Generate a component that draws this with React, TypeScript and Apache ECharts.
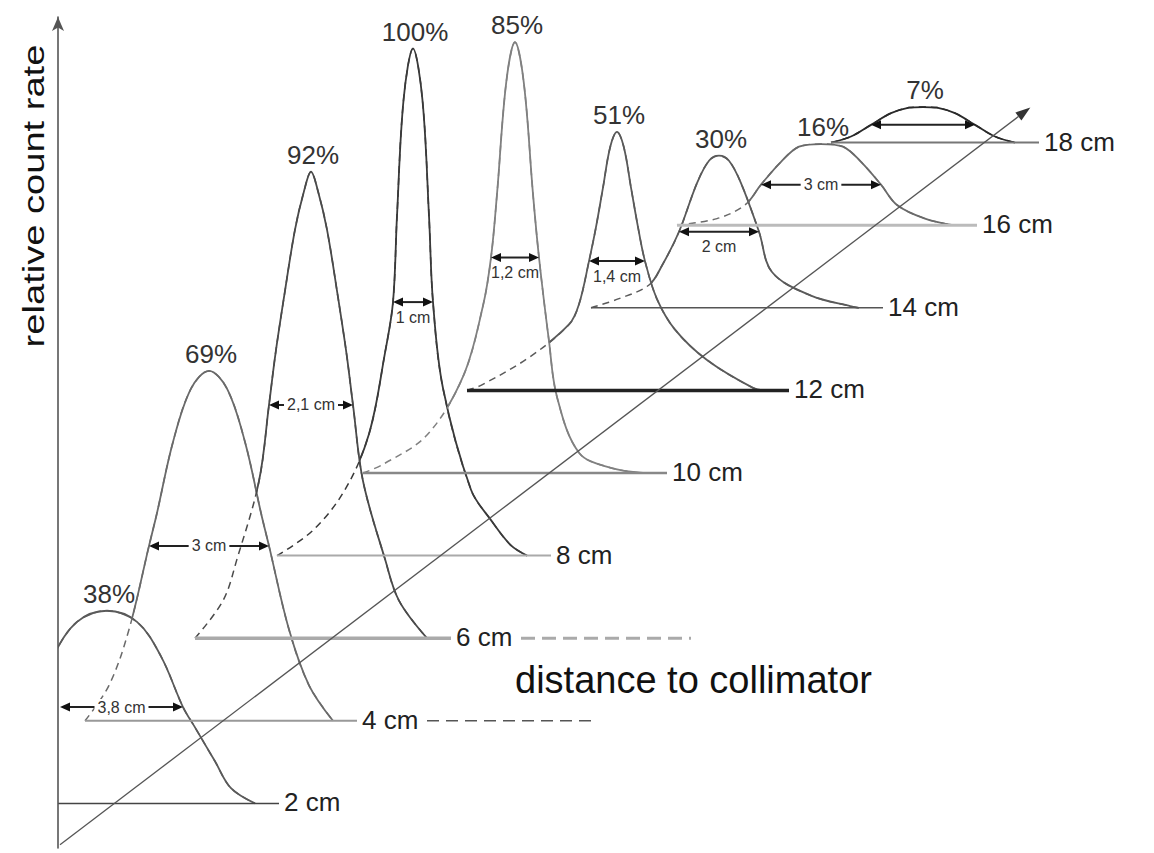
import React, { useEffect, useRef } from "react";
import * as echarts from "echarts";

// ---------------- data ----------------
const distancesCm = [2, 4, 6, 8, 10, 12, 14, 16, 18];
const distanceLabels = ["2 cm", "4 cm", "6 cm", "8 cm", "10 cm", "12 cm", "14 cm", "16 cm", "18 cm"];
const peakPercent = [38, 69, 92, 100, 85, 51, 30, 16, 7];
const percentLabels = ["38%", "69%", "92%", "100%", "85%", "51%", "30%", "16%", "7%"];
const fwhmCm = [3.8, 3, 2.1, 1, 1.2, 1.4, 2, 3, 2.6];
const fwhmLabels = ["3,8 cm", "3 cm", "2,1 cm", "1 cm", "1,2 cm", "1,4 cm", "2 cm", "3 cm", ""];

// lateral position (cm) -> relative count rate (%) profiles, one per distance
const profile2cm = [[-3.7, 0], [-3.1, 3], [-2.7, 8.3], [-2.2, 15], [-1.9, 19], [-1.35, 29], [-0.75, 35.8], [0, 38], [0.75, 35.8], [1.35, 29], [1.9, 19], [2.2, 15], [2.7, 8.3], [3.1, 3], [3.7, 0]];
const profile4cm = [[-3.1, 0], [-2.5, 7], [-2.0, 18], [-1.5, 34.5], [-1.3, 41], [-0.9, 55], [-0.45, 65.5], [0, 69], [0.45, 65.5], [0.9, 55], [1.3, 41], [1.5, 34.5], [2.0, 18], [2.5, 7], [3.1, 0]];
const profile6cm = [[-2.9, 0], [-2.2, 7.4], [-1.85, 15.6], [-1.3, 31], [-1.05, 46], [-0.89, 56], [-0.66, 68], [-0.4, 80.6], [-0.18, 88], [0, 92], [0.18, 88], [0.4, 80.6], [0.66, 68], [0.89, 56], [1.05, 46], [1.3, 31], [1.85, 15.6], [2.2, 7.4], [2.9, 0]];
const profile8cm = [[-3.4, 0], [-2.5, 5], [-1.7, 13], [-1.1, 24], [-0.7, 40], [-0.5, 50], [-0.4, 67], [-0.235, 90], [0, 100], [0.235, 90], [0.4, 67], [0.5, 50], [0.75, 33], [1.45, 13], [1.95, 7], [2.45, 2], [2.85, 0]];
const profile10cm = [[-3.8, 0], [-3.3, 1.7], [-2.2, 7.5], [-1.3, 19], [-0.8, 33], [-0.6, 42.5], [-0.45, 55], [-0.22, 77], [0, 85], [0.22, 77], [0.45, 55], [0.6, 42.5], [0.85, 26], [1.05, 15], [1.6, 4], [2.4, 1], [3.2, 0]];
const profile12cm = [[-3.75, 0], [-3.4, 1], [-2.2, 6.5], [-1.2, 13], [-0.95, 17], [-0.7, 25.5], [-0.53, 32], [-0.35, 40], [-0.17, 48], [0, 51], [0.17, 48], [0.35, 40], [0.53, 32], [0.7, 25.5], [1.0, 18], [1.45, 12], [2.25, 6], [3.4, 0.5], [3.7, 0]];
const profile14cm = [[-3.2, 0], [-2.5, 1.8], [-1.75, 4.5], [-1.42, 8.4], [-1.0, 15], [-0.55, 24.6], [-0.25, 29], [0, 30], [0.25, 29], [0.55, 24.6], [1.0, 15], [1.33, 7], [2.3, 2.4], [3.3, 0.3], [3.5, 0]];
const profile16cm = [[-3.6, 0], [-2.6, 1.3], [-1.9, 4], [-1.5, 8], [-1.0, 12.5], [-0.55, 15.5], [0, 16], [0.55, 15.5], [1.0, 12.5], [1.5, 8], [1.9, 4], [2.6, 1.3], [3.3, 0]];
const profile18cm = [[-2.3, 0], [-1.8, 1.2], [-1.3, 3.5], [-0.8, 5.8], [-0.35, 6.9], [0, 7], [0.35, 6.9], [0.8, 5.8], [1.3, 3.5], [1.8, 1.2], [2.3, 0]];

const profiles = [profile2cm, profile4cm, profile6cm, profile8cm, profile10cm, profile12cm, profile14cm, profile16cm, profile18cm];

// ---------------- projection & styles ----------------
// oblique projection: each cm of distance shifts the profile right and up
const DEPTH_LAT = 1.275; // lateral-axis units per cm of distance
const DEPTH_PCT = 8.146; // count-axis units per cm of distance
const proj = (lat: number, pct: number, d: number) => [lat + DEPTH_LAT * d, pct + DEPTH_PCT * d];

const X_MIN = 1.325;
const X_MAX = 28.725;
const Y_MIN = 7.495;
const Y_MAX = 171.4;
const BASE_EXT = 0.6; // baseline extension past the right foot (cm)
const SMOOTH = 0.35;
const FONT = '"Liberation Sans", Arial, Helvetica, sans-serif';

const curveColors = ["#5a5a5a", "#6a6a6a", "#4a4a4a", "#3a3a3a", "#808080", "#5a5a5a", "#5a5a5a", "#6a6a6a", "#2a2a2a"];
const baselineStyles: any[] = [
  { color: "#444", width: 1.5 },
  { color: "#999", width: 2, tail: { color: "#555", width: 1.6, dash: [12, 7] } },
  { color: "#aaa", width: 3.5, tail: { color: "#aaa", width: 3, dash: [14, 7] } },
  { color: "#aaa", width: 2 },
  { color: "#888", width: 2.5 },
  { color: "#222", width: 3.5 },
  { color: "#555", width: 1.5 },
  { color: "#bbb", width: 3 },
  { color: "#777", width: 2 },
];
const arrowLabelPlacement = ["inline", "inline", "inline", "below", "below", "below", "below", "inline", "none"];

// distance axis (decorative diagonal) endpoints in projection terms
const DIST_AXIS_FROM = { lat: 0.1, d: 1.0 };
const DIST_AXIS_TO = { lat: 1.6, d: 18.85 };

const seriesData = distancesCm.map((d, i) => [d, peakPercent[i]]);

function bbox(pts: number[][]) {
  let x0 = Infinity, y0 = Infinity, x1 = -Infinity, y1 = -Infinity;
  for (const p of pts) {
    x0 = Math.min(x0, p[0]);
    y0 = Math.min(y0, p[1]);
    x1 = Math.max(x1, p[0]);
    y1 = Math.max(y1, p[1]);
  }
  return [[x0, y0], [x1, y1]];
}

function buildOption(): any {
  const profilePoints = (api: any, i: number) => {
    const d = distancesCm[i];
    return profiles[i].map(([l, p]) => api.coord(proj(l, p, d)));
  };

  return {
    animation: false,
    backgroundColor: "#fff",
    grid: { left: 58, top: 17, width: 1096, height: 831, containLabel: false },
    xAxis: { type: "value", min: X_MIN, max: X_MAX, show: false },
    yAxis: {
      type: "value",
      min: Y_MIN,
      max: Y_MAX,
      z: 10,
      axisLine: {
        show: true,
        onZero: false,
        symbol: ["none", "arrow"],
        symbolSize: [9, 14],
        lineStyle: { color: "#555", width: 1.6 },
      },
      axisTick: { show: false },
      axisLabel: { show: false },
      splitLine: { show: false },
    },
    graphic: [
      {
        type: "text",
        x: 34,
        y: 196,
        rotation: Math.PI / 2,
        scaleX: 1.27,
        style: {
          text: "relative count rate",
          fontSize: 30,
          fontFamily: FONT,
          fill: "#111",
          align: "center",
          verticalAlign: "middle",
        },
      },
      {
        type: "text",
        x: 515,
        y: 680,
        style: {
          text: "distance to collimator",
          fontSize: 38,
          fontFamily: FONT,
          fill: "#111",
          align: "left",
          verticalAlign: "middle",
        },
      },
    ],
    series: [
      // filled profiles (occluding) + solid strokes, front profiles on top
      {
        type: "custom",
        name: "profiles",
        coordinateSystem: "cartesian2d",
        clip: true,
        silent: true,
        z: 2,
        data: seriesData,
        renderItem: (params: any, api: any) => {
          const i = params.dataIndex;
          const d = distancesCm[i];
          const pts = profilePoints(api, i);
          const box = bbox(pts);
          const zz = 2 * (20 - d);
          return {
            type: "group",
            children: [
              {
                type: "polygon",
                z2: zz,
                shape: { points: pts, smooth: SMOOTH, smoothConstraint: box },
                style: { fill: "#fff", stroke: null },
              },
              {
                type: "polyline",
                z2: zz + 1,
                shape: { points: pts, smooth: SMOOTH, smoothConstraint: box },
                style: { fill: null, stroke: curveColors[i], lineWidth: 1.8 },
              },
            ],
          };
        },
      },
      // dashed overlay: shows the hidden parts as dashes
      {
        type: "custom",
        name: "hidden",
        coordinateSystem: "cartesian2d",
        clip: true,
        silent: true,
        z: 3,
        data: seriesData,
        renderItem: (params: any, api: any) => {
          const i = params.dataIndex;
          const pts = profilePoints(api, i);
          return {
            type: "polyline",
            shape: { points: pts, smooth: SMOOTH, smoothConstraint: bbox(pts) },
            style: { fill: null, stroke: curveColors[i], lineWidth: 1.5, lineDash: [7, 5] },
          };
        },
      },
      // baselines with distance labels
      {
        type: "custom",
        name: "baselines",
        coordinateSystem: "cartesian2d",
        clip: true,
        silent: true,
        z: 4,
        data: seriesData,
        renderItem: (params: any, api: any) => {
          const i = params.dataIndex;
          const d = distancesCm[i];
          const prof = profiles[i];
          const a = api.coord(proj(prof[0][0], 0, d));
          const b = api.coord(proj(prof[prof.length - 1][0] + BASE_EXT, 0, d));
          const st = baselineStyles[i];
          const children: any[] = [
            {
              type: "line",
              shape: { x1: a[0], y1: a[1], x2: b[0], y2: b[1] },
              style: { stroke: st.color, lineWidth: st.width },
            },
            {
              type: "text",
              x: b[0] + 5,
              y: b[1] - 1,
              style: {
                text: distanceLabels[i],
                fontSize: 26,
                fontFamily: FONT,
                fill: "#222",
                align: "left",
                verticalAlign: "middle",
              },
            },
          ];
          if (st.tail) {
            children.push({
              type: "line",
              shape: { x1: b[0] + 70, y1: b[1], x2: b[0] + 240, y2: b[1] },
              style: { stroke: st.tail.color, lineWidth: st.tail.width, lineDash: st.tail.dash },
            });
          }
          return { type: "group", children };
        },
      },
      // diagonal distance axis with arrow head
      {
        type: "custom",
        name: "distance axis",
        coordinateSystem: "cartesian2d",
        clip: false,
        silent: true,
        z: 5,
        data: [[DIST_AXIS_FROM.d, 0]],
        renderItem: (params: any, api: any) => {
          const a = api.coord(proj(DIST_AXIS_FROM.lat, 0, DIST_AXIS_FROM.d));
          const b = api.coord(proj(DIST_AXIS_TO.lat, 0, DIST_AXIS_TO.d));
          const dx = b[0] - a[0];
          const dy = b[1] - a[1];
          const len = Math.sqrt(dx * dx + dy * dy);
          const ux = dx / len;
          const uy = dy / len;
          const nx = -uy;
          const ny = ux;
          const hl = 15;
          const hw = 5;
          const bx = b[0] - ux * hl;
          const by = b[1] - uy * hl;
          return {
            type: "group",
            children: [
              {
                type: "line",
                shape: { x1: a[0], y1: a[1], x2: bx, y2: by },
                style: { stroke: "#555", lineWidth: 1.3 },
              },
              {
                type: "polygon",
                shape: { points: [[b[0], b[1]], [bx + nx * hw, by + ny * hw], [bx - nx * hw, by - ny * hw]] },
                style: { fill: "#333", stroke: null },
              },
            ],
          };
        },
      },
      // FWHM arrows
      {
        type: "custom",
        name: "fwhm",
        coordinateSystem: "cartesian2d",
        clip: false,
        silent: true,
        z: 6,
        data: seriesData,
        renderItem: (params: any, api: any) => {
          const i = params.dataIndex;
          const d = distancesCm[i];
          const half = peakPercent[i] / 2;
          const L = api.coord(proj(-fwhmCm[i] / 2, half, d));
          const R = api.coord(proj(fwhmCm[i] / 2, half, d));
          const gx = params.coordSys.x;
          const x1 = Math.max(L[0], gx + 2);
          const x2 = R[0];
          const y = L[1];
          const hl = 10;
          const hw = 4.5;
          const children: any[] = [
            {
              type: "line",
              shape: { x1: x1 + hl - 1, y1: y, x2: x2 - hl + 1, y2: y },
              style: { stroke: "#222", lineWidth: 2 },
            },
            {
              type: "polygon",
              shape: { points: [[x1, y], [x1 + hl, y - hw], [x1 + hl, y + hw]] },
              style: { fill: "#111", stroke: null },
            },
            {
              type: "polygon",
              shape: { points: [[x2, y], [x2 - hl, y - hw], [x2 - hl, y + hw]] },
              style: { fill: "#111", stroke: null },
            },
          ];
          const place = arrowLabelPlacement[i];
          if (place !== "none" && fwhmLabels[i]) {
            const textStyle: any = {
              text: fwhmLabels[i],
              fontSize: 16,
              fontFamily: FONT,
              fill: "#333",
              align: "center",
              verticalAlign: "middle",
            };
            if (place === "inline") {
              textStyle.backgroundColor = "#fff";
              textStyle.padding = [0, 3, 0, 3];
            }
            children.push({
              type: "text",
              x: (x1 + x2) / 2,
              y: place === "inline" ? y : y + 15,
              style: textStyle,
            });
          }
          return { type: "group", children };
        },
      },
      // peak percentage labels
      {
        type: "custom",
        name: "peaks",
        coordinateSystem: "cartesian2d",
        clip: false,
        silent: true,
        z: 6,
        data: seriesData,
        renderItem: (params: any, api: any) => {
          const i = params.dataIndex;
          const d = distancesCm[i];
          const top = api.coord(proj(0, peakPercent[i], d));
          return {
            type: "text",
            x: top[0] + 2,
            y: top[1] - 17,
            style: {
              text: percentLabels[i],
              fontSize: 26,
              fontFamily: FONT,
              fill: "#333",
              align: "center",
              verticalAlign: "middle",
            },
          };
        },
      },
    ],
  };
}

export default function App() {
  const ref = useRef<HTMLDivElement>(null);
  useEffect(() => {
    if (!ref.current) return;
    const chart = echarts.init(ref.current, null, { renderer: "svg" });
    chart.setOption(buildOption());
    return () => {
      chart.dispose();
    };
  }, []);
  return (
    <div
      ref={ref}
      style={{ position: "fixed", left: 0, top: 0, width: 1154, height: 853, background: "#fff" }}
    />
  );
}
